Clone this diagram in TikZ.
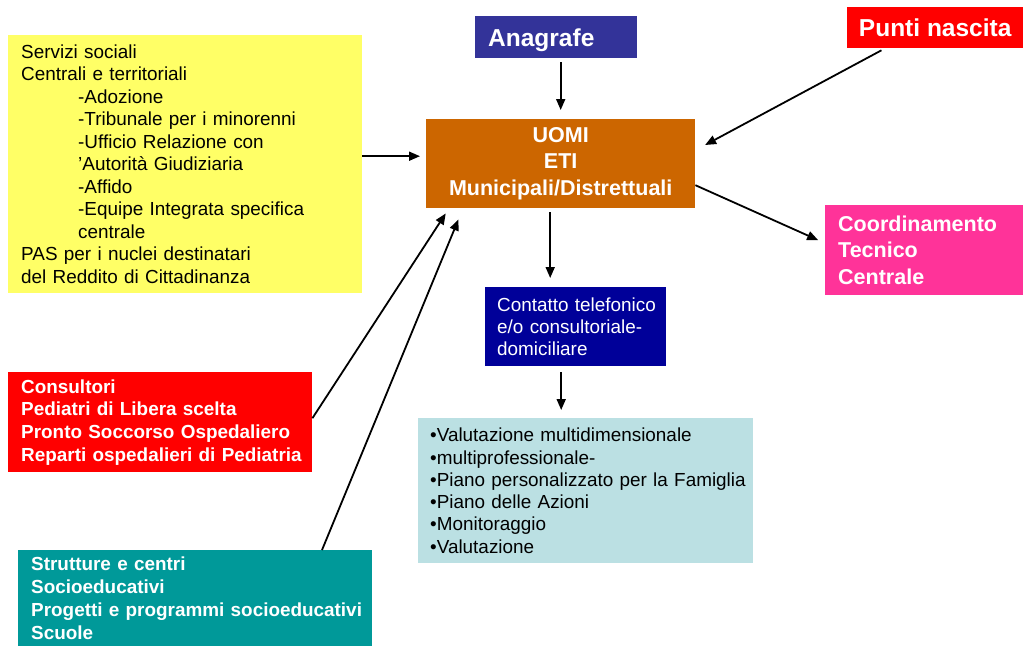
\documentclass[tikz,border=0pt]{standalone}
\usepackage{fontspec}
\setmainfont{Liberation Sans}
\usetikzlibrary{arrows.meta}
\hyphenpenalty=10000
\definecolor{sourceyellow}{HTML}{FFFF66}
\definecolor{registryblue}{HTML}{333399}
\definecolor{birthred}{HTML}{FF0000}
\definecolor{hubbrown}{HTML}{CC6600}
\definecolor{centralpink}{HTML}{FF3399}
\definecolor{contactblue}{HTML}{000099}
\definecolor{assesslight}{HTML}{BBE0E3}
\definecolor{schoolteal}{HTML}{009999}
\tikzset{
  panel/.style={rectangle, anchor=north west, inner xsep=10pt, inner ysep=0pt, align=left, font=\fontsize{18.9}{22.5}\selectfont},
  panelbold/.style={panel, text=white, font=\bfseries\fontsize{18.9}{22.7}\selectfont},
  paneltitle/.style={panel, text=white, font=\bfseries\fontsize{21.5}{26.5}\selectfont},
  panelhead/.style={panel, text=white, text depth=0pt, font=\bfseries\fontsize{24.5}{28}\selectfont},
  flow/.style={draw=black, line width=1.8pt, -{Triangle[length=11pt,width=9pt]}}
}

\begin{document}
\begin{tikzpicture}[x=1pt,y=-1pt]
  \useasboundingbox (0,0) rectangle (1023,646);

  % sources and hub
  \node[panel, fill=sourceyellow, text width=334pt, minimum height=258pt] (social) at (8,35) {\hspace*{3pt}Servizi sociali\\
    \hspace*{3pt}Centrali e territoriali\\
    \hspace*{60pt}-Adozione\\
    \hspace*{60pt}-Tribunale per i minorenni\\
    \hspace*{60pt}-Ufficio Relazione con\\
    \hspace*{60pt}’Autorità Giudiziaria\\
    \hspace*{60pt}-Affido\\
    \hspace*{60pt}-Equipe Integrata specifica\\
    \hspace*{60pt}centrale\\
    \hspace*{3pt}PAS per i nuclei destinatari\\
    \hspace*{3pt}del Reddito di Cittadinanza};
  \node[panelhead, fill=registryblue, text width=142pt, minimum height=42pt] (registry) at (475,16) {\hspace*{3pt}Anagrafe};
  \node[panelhead, fill=birthred, minimum width=176pt, minimum height=41pt, align=center] (births) at (847,7) {Punti nascita};
  \node[paneltitle, fill=hubbrown, text width=249pt, minimum height=89pt, align=center] (hub) at (426,119) {UOMI\\ETI\\Municipali/Distrettuali};
  \node[paneltitle, fill=centralpink, text width=178pt, minimum height=90pt] (central) at (825,205) {\hspace*{3pt}Coordinamento\\\hspace*{3pt}Tecnico\\\hspace*{3pt}Centrale};
  \node[panel, fill=contactblue, text=white, text width=161pt, minimum height=79pt, font=\fontsize{18.9}{22}\selectfont] (contact) at (485,287) {\hspace*{2pt}Contatto telefonico\\\hspace*{2pt}e/o consultoriale-\\\hspace*{2pt}domiciliare};
  \node[panel, fill=assesslight, inner xsep=6pt, text width=323pt, minimum height=145pt, font=\fontsize{18.9}{22.3}\selectfont] (assess) at (418,418) {\hspace*{6pt}•Valutazione multidimensionale\\
    \hspace*{6pt}•multiprofessionale-\\
    \hspace*{6pt}•Piano personalizzato per la Famiglia\\
    \hspace*{6pt}•Piano delle Azioni\\
    \hspace*{6pt}•Monitoraggio\\
    \hspace*{6pt}•Valutazione};
  \node[panelbold, fill=birthred, text width=284pt, minimum height=100pt] (health) at (8,372) {\hspace*{3pt}Consultori\\
    \hspace*{3pt}Pediatri di Libera scelta\\
    \hspace*{3pt}Pronto Soccorso Ospedaliero\\
    \hspace*{3pt}Reparti ospedalieri di Pediatria};
  \node[panelbold, fill=schoolteal, text width=334pt, minimum height=96pt] (school) at (18,550) {\hspace*{3pt}Strutture e centri\\
    \hspace*{3pt}Socioeducativi\\
    \hspace*{3pt}Progetti e programmi socioeducativi\\
    \hspace*{3pt}Scuole};

  % connectors
  \draw[flow, shorten <=4pt, shorten >=9pt] (registry.south -| hub.north) -- (hub.north);
  \draw[flow, shorten <=4pt, shorten >=11pt] ([xshift=38pt]births.south west) -- ([yshift=13.5pt]hub.east);
  \draw[flow, shorten >=6pt] ([yshift=8pt]social.east) -- ([yshift=8pt]social.east -| hub.west);
  \draw[flow, shorten >=7.5pt] ([yshift=-21.5pt]hub.east) -- ([yshift=7pt]central.west);
  \draw[flow, shorten <=4pt, shorten >=9pt] ([xshift=-10.5pt]hub.south) -- ([xshift=-10.5pt]hub.south |- contact.north);
  \draw[flow, shorten <=6pt, shorten >=8pt] ([xshift=-14.5pt]contact.south) -- ([xshift=-14.5pt]contact.south |- assess.north);
  \draw[flow, shorten >=6pt] ([yshift=4pt]health.east) -- ([xshift=23pt]hub.south west);
  \draw[flow, shorten >=12pt] ([xshift=304pt]school.north west) -- ([xshift=37pt]hub.south west);
\end{tikzpicture}
\end{document}
